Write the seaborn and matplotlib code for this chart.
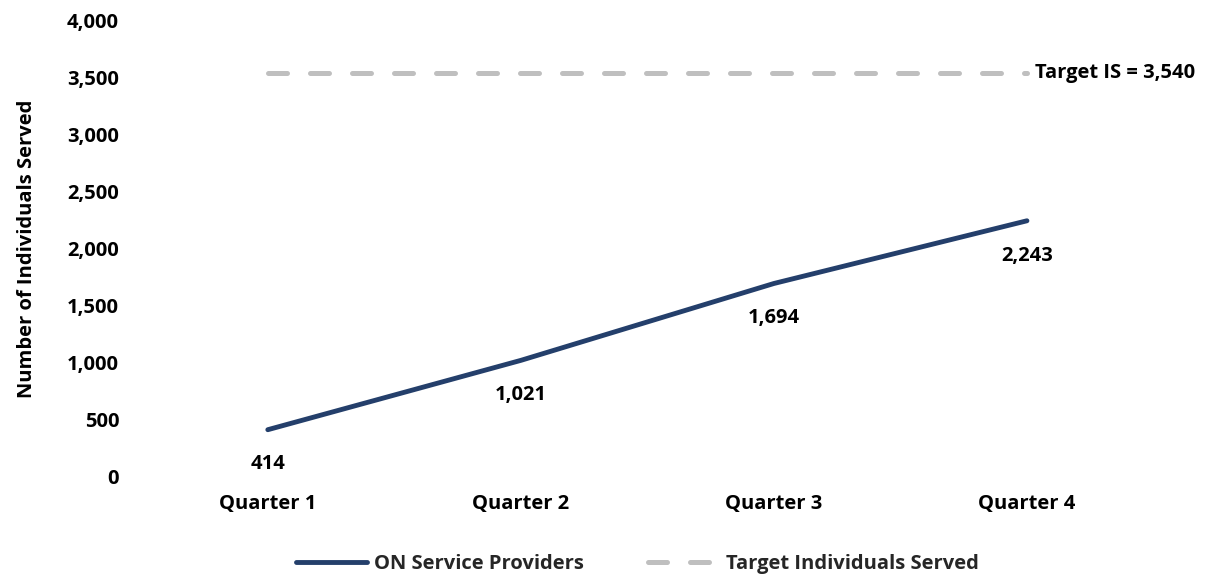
import matplotlib
matplotlib.use("Agg")
import matplotlib.pyplot as plt
import seaborn as sns
import pandas as pd

quarters = ["Quarter 1", "Quarter 2", "Quarter 3", "Quarter 4"]
providers = [414, 1021, 1694, 2243]
target_value = 3540
target = [target_value] * len(quarters)
series_names = ["ON Service Providers", "Target Individuals Served"]
y_ticks = [0, 500, 1000, 1500, 2000, 2500, 3000, 3500, 4000]

sns.set_theme(style="white")
plt.rcParams['font.family'] = ['Open Sans', 'DejaVu Sans']
plt.rcParams['font.weight'] = 'bold'

fig = plt.figure(figsize=(12.18, 5.74), dpi=100)
ax = fig.add_axes([0.116, 0.169, 0.831, 0.796])

x = list(range(len(quarters)))
df = pd.DataFrame({"x": x, "Value": providers})
dft = pd.DataFrame({"x": x, "Value": target})

navy = "#243F6B"
gray = "#BFBFBF"
sns.lineplot(data=df, x="x", y="Value", ax=ax, color=navy, linewidth=3.5,
             label=series_names[0], solid_capstyle="round")
sns.lineplot(data=dft, x="x", y="Value", ax=ax, color=gray, linewidth=3.6,
             label=series_names[1], linestyle=(0, (3.8, 4.6)), dash_capstyle="round")

fs = 14.5
for xi, v in zip(x, providers):
    ax.annotate(f"{v:,}", (xi, v), xytext=(0, -25), textcoords="offset points",
                ha="center", va="center", fontsize=fs, fontweight="bold", color="black")

ax.annotate(f"Target IS = {target_value:,}", (x[-1], target_value), xytext=(6, 0),
            textcoords="offset points", ha="left", va="center", fontsize=fs,
            fontweight="bold", color="black")

ax.set_xlim(-0.5, len(quarters) - 0.5)
ax.set_ylim(0, 4000)
ax.set_xticks(x)
ax.set_xticklabels(quarters)
ax.set_yticks(y_ticks)
ax.set_yticklabels([f"{t:,}" for t in y_ticks])
ax.tick_params(axis="both", length=0, labelsize=fs, colors="black")
ax.tick_params(axis="x", pad=12)
ax.tick_params(axis="y", pad=16)
for lab in ax.get_xticklabels() + ax.get_yticklabels():
    lab.set_fontweight("bold")
ax.set_xlabel("")
ax.set_ylabel("Number of Individuals Served", fontsize=fs, fontweight="bold", color="black", labelpad=22)
for s in ax.spines.values():
    s.set_visible(False)
ax.grid(False)

leg = ax.legend(loc="upper center", bbox_to_anchor=(0.49, -0.128), ncol=2, frameon=False,
                handlelength=3.5, columnspacing=3.2, handletextpad=0.35,
                prop={"weight": "bold", "size": fs})

fig.savefig("out.png", dpi=100)
